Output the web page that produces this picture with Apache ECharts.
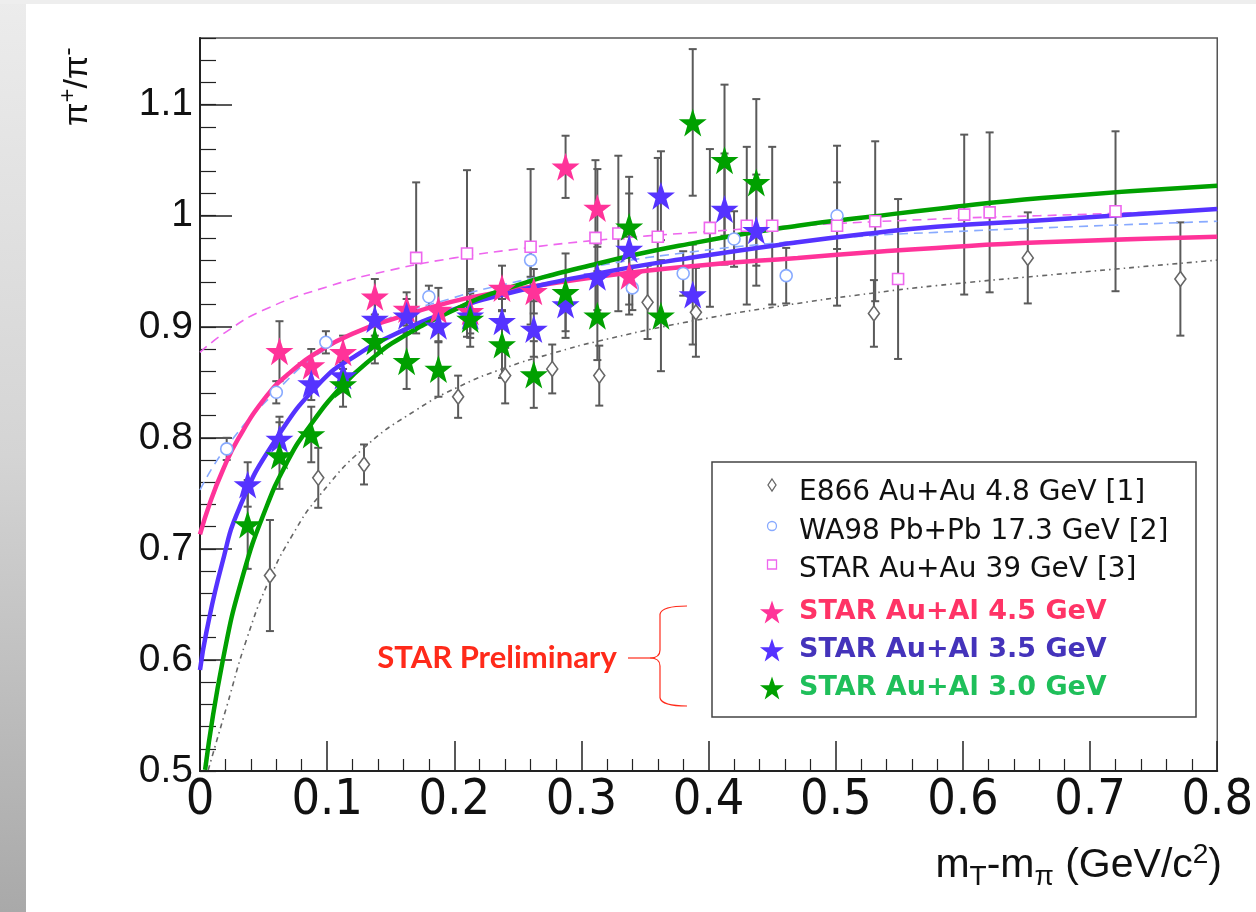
<!DOCTYPE html>
<html>
<head>
<meta charset="utf-8">
<script src="https://cdn.jsdelivr.net/npm/echarts@6/dist/echarts.min.js"></script>
<style>
  html, body { margin: 0; padding: 0; width: 1256px; height: 912px; overflow: hidden; background: #ffffff; }
  #leftStrip { position: absolute; left: 0; top: 0; width: 26px; height: 912px;
    background: linear-gradient(to bottom, #ececec 0%, #d4d4d4 50%, #a9a9a9 100%); }
  #topStrip { position: absolute; left: 0; top: 0; width: 1256px; height: 4px; background: #eeeeee; }
  #chart { position: absolute; left: 0; top: 0; width: 1256px; height: 912px; }
</style>
</head>
<body>
<div id="leftStrip"></div>
<div id="topStrip"></div>
<div id="chart"></div>
<script>
// ---------------- DATA ----------------
const seriesNames = [
  'E866 Au+Au 4.8 GeV [1]',
  'WA98 Pb+Pb 17.3 GeV [2]',
  'STAR Au+Au 39 GeV [3]',
  'STAR Au+Al 4.5 GeV',
  'STAR Au+Al 3.5 GeV',
  'STAR Au+Al 3.0 GeV'
];
const annotationText = 'STAR Preliminary';
const xTitleParts = ['m', 'T', '-m', 'π', ' (GeV/c', '2', ')'];
const yTitleParts = ['π', '+', '/π', '-'];

// E866 Au+Au 4.8 GeV
const e866X   = [0.055, 0.093, 0.129, 0.203, 0.240, 0.277, 0.314, 0.352, 0.390, 0.530, 0.651, 0.771];
const e866Y   = [0.676, 0.764, 0.776, 0.837, 0.856, 0.862, 0.856, 0.922, 0.913, 0.912, 0.962, 0.943];
const e866Err = [0.050, 0.027, 0.018, 0.019, 0.025, 0.022, 0.027, 0.033, 0.040, 0.030, 0.041, 0.051];

// WA98 Pb+Pb 17.3 GeV
const wa98X   = [0.021, 0.060, 0.099, 0.180, 0.260, 0.340, 0.380, 0.420, 0.461, 0.501];
const wa98Y   = [0.790, 0.841, 0.886, 0.927, 0.960, 0.935, 0.948, 0.979, 0.946, 1.000];
const wa98Err = [0.010, 0.010, 0.010, 0.010, 0.015, 0.020, 0.020, 0.025, 0.025, 0.030];

// STAR Au+Au 39 GeV
const s39X   = [0.170, 0.210, 0.260, 0.311, 0.329, 0.360, 0.401, 0.430, 0.450, 0.501, 0.531, 0.549, 0.601, 0.621, 0.720];
const s39Y   = [0.962, 0.966, 0.972, 0.980, 0.984, 0.981, 0.989, 0.991, 0.991, 0.991, 0.995, 0.943, 1.001, 1.003, 1.004];
const s39Err = [0.068, 0.075, 0.070, 0.070, 0.070, 0.071, 0.071, 0.071, 0.071, 0.072, 0.072, 0.072, 0.072, 0.072, 0.072];

// STAR Au+Al 4.5 GeV
const al45X   = [0.0625, 0.0875, 0.1125, 0.1375, 0.1625, 0.1875, 0.2125, 0.2375, 0.2625, 0.2875, 0.3125, 0.3375];
const al45Y   = [0.878, 0.865, 0.877, 0.927, 0.916, 0.915, 0.914, 0.935, 0.932, 1.044, 1.007, 0.946];
const al45Err = [0.027, 0.015, 0.015, 0.016, 0.015, 0.020, 0.020, 0.020, 0.020, 0.028, 0.035, 0.035];

// STAR Au+Al 3.5 GeV
const al35X   = [0.0375, 0.0625, 0.0875, 0.1125, 0.1375, 0.1625, 0.1875, 0.2125, 0.2375, 0.2625, 0.2875, 0.3125, 0.3375, 0.3625, 0.3875, 0.4125, 0.4375];
const al35Y   = [0.758, 0.799, 0.849, 0.856, 0.907, 0.910, 0.901, 0.910, 0.905, 0.898, 0.920, 0.945, 0.970, 1.018, 0.929, 1.006, 0.987];
const al35Err = [0.020, 0.020, 0.015, 0.015, 0.015, 0.015, 0.015, 0.020, 0.020, 0.025, 0.030, 0.030, 0.050, 0.040, 0.045, 0.050, 0.050];

// STAR Au+Al 3.0 GeV
const al30X   = [0.0375, 0.0625, 0.0875, 0.1125, 0.1375, 0.1625, 0.1875, 0.2125, 0.2375, 0.2625, 0.2875, 0.3125, 0.3375, 0.3625, 0.3875, 0.4125, 0.4375];
const al30Y   = [0.722, 0.784, 0.803, 0.848, 0.887, 0.869, 0.862, 0.907, 0.884, 0.857, 0.931, 0.910, 0.990, 0.910, 1.084, 1.050, 1.030];
const al30Err = [0.040, 0.030, 0.025, 0.020, 0.020, 0.025, 0.025, 0.025, 0.030, 0.030, 0.035, 0.040, 0.045, 0.050, 0.066, 0.068, 0.075];

// Fit curves
const fitE866X = [0.0065, 0.021, 0.0365, 0.0548, 0.073, 0.0926, 0.130, 0.170, 0.2035, 0.240, 0.277, 0.313, 0.391, 0.470, 0.527, 0.579, 0.662, 0.800];
const fitE866Y = [0.501, 0.558, 0.618, 0.673, 0.713, 0.746, 0.792, 0.825, 0.846, 0.863, 0.876, 0.887, 0.906, 0.921, 0.930, 0.937, 0.946, 0.960];

const fitWA98X = [0.0, 0.021, 0.060, 0.099, 0.149, 0.196, 0.235, 0.313, 0.391, 0.470, 0.527, 0.579, 0.662, 0.800];
const fitWA98Y = [0.753, 0.792, 0.842, 0.880, 0.908, 0.925, 0.937, 0.955, 0.968, 0.977, 0.982, 0.985, 0.989, 0.995];

const fit39X = [0.0, 0.020, 0.050, 0.100, 0.150, 0.200, 0.250, 0.313, 0.391, 0.470, 0.580, 0.660, 0.800];
const fit39Y = [0.877, 0.895, 0.915, 0.936, 0.951, 0.962, 0.970, 0.978, 0.985, 0.991, 0.997, 1.000, 1.005];

const fit45X = [0.0, 0.008, 0.018, 0.030, 0.052, 0.070, 0.0965, 0.1226, 0.149, 0.196, 0.235, 0.313, 0.391, 0.470, 0.527, 0.579, 0.662, 0.800];
const fit45Y = [0.713, 0.742, 0.771, 0.799, 0.837, 0.858, 0.880, 0.895, 0.906, 0.922, 0.931, 0.945, 0.955, 0.962, 0.967, 0.971, 0.976, 0.981];

const fit35X = [0.0, 0.005, 0.017, 0.031, 0.0587, 0.0965, 0.1226, 0.149, 0.196, 0.235, 0.313, 0.391, 0.470, 0.527, 0.579, 0.662, 0.800];
const fit35Y = [0.591, 0.625, 0.685, 0.737, 0.797, 0.852, 0.874, 0.891, 0.914, 0.928, 0.948, 0.963, 0.976, 0.984, 0.990, 0.996, 1.006];

const fit30X = [0.004, 0.018, 0.034, 0.052, 0.068, 0.0835, 0.112, 0.138, 0.1566, 0.196, 0.235, 0.313, 0.391, 0.470, 0.527, 0.579, 0.662, 0.800];
const fit30Y = [0.501, 0.600, 0.677, 0.737, 0.777, 0.806, 0.847, 0.874, 0.889, 0.913, 0.932, 0.957, 0.976, 0.991, 0.999, 1.006, 1.016, 1.027];

// ---------------- STYLE ----------------
const STAR_PTS = [[50,0],[61.8,35.1],[98.1,35.1],[68.8,56.8],[79.4,91.5],[50,70],[20.6,91.5],[31.2,56.8],[1.9,35.1],[38.2,35.1]];
const STAR_PATH = 'path://M' + STAR_PTS.map(p => p[0] + ',' + p[1]).join(' L') + ' Z';
const C = {
  e866: '#666666', wa98: '#88aaff', s39: '#ee66ee',
  pink: '#ff3399', blue: '#5533ff', green: '#00a000',
  pinkText: '#ff3366', blueText: '#4433bb', greenText: '#1fbf5a',
  err: '#5a5a5a', axis: '#222222', prelim: '#ff2a1a'
};
const TICK_FONT = '"Liberation Sans", Arial, sans-serif';
const XTICK_FONT = '"Liberation Sans Narrow", "Arial Narrow", "DejaVu Sans Condensed", sans-serif';

const zip = (xs, ys) => xs.map((x, i) => [x, ys[i]]);

function errSeries(xs, ys, es, color, width, z) {
  return {
    type: 'custom', z: z, silent: true, clip: true,
    data: xs.map((x, i) => [x, ys[i] - es[i], ys[i] + es[i]]),
    encode: { x: 0, y: [1, 2] },
    renderItem: function (params, api) {
      const lo = api.coord([api.value(0), api.value(1)]);
      const hi = api.coord([api.value(0), api.value(2)]);
      const cw = 4;
      const st = { stroke: color, lineWidth: width };
      return {
        type: 'group', children: [
          { type: 'line', shape: { x1: lo[0], y1: lo[1], x2: hi[0], y2: hi[1] }, style: st },
          { type: 'line', shape: { x1: lo[0] - cw, y1: lo[1], x2: lo[0] + cw, y2: lo[1] }, style: st },
          { type: 'line', shape: { x1: hi[0] - cw, y1: hi[1], x2: hi[0] + cw, y2: hi[1] }, style: st }
        ]
      };
    }
  };
}

function fitSeries(name, xs, ys, color, width, type, z) {
  return {
    name: name, type: 'line', z: z, data: zip(xs, ys), showSymbol: false, silent: true,
    smooth: 0.5, clip: true,
    lineStyle: { color: color, width: width, type: type }
  };
}

function openSeries(name, xs, ys, symbol, size, color, z) {
  return {
    name: name, type: 'scatter', z: z, data: zip(xs, ys), symbol: symbol, symbolSize: size, silent: true,
    itemStyle: { color: '#ffffff', borderColor: color, borderWidth: 1.6, opacity: 1 }
  };
}

function starSeries(name, xs, ys, color, z) {
  return {
    name: name, type: 'scatter', z: z, data: zip(xs, ys), symbol: STAR_PATH, symbolSize: 28, silent: true,
    itemStyle: { color: color, opacity: 1 }
  };
}

const chart = echarts.init(document.getElementById('chart'), null, { renderer: 'canvas' });

const yFmt = v => (Math.abs(v * 10 - Math.round(v * 10)) < 1e-6) ? String(+v.toFixed(1)) : '';

// legend (graphic) layout
const legX = 712, legY = 462, legW = 484, legH = 255;
const rowY = [493, 532, 570, 612, 650, 688];
const markerX = 772, textX = 799;
const rowColors = ['#111111', '#111111', '#111111', C.pinkText, C.blueText, C.greenText];
const rowBold = [false, false, false, true, true, true];

function starPoly(cx, cy, size) {
  return STAR_PTS.map(p => [cx + (p[0] - 50) * size / 100, cy + (p[1] - 50) * size / 100]);
}

const legendGraphics = [
  { type: 'rect', z: 50, shape: { x: legX, y: legY, width: legW, height: legH },
    style: { fill: '#ffffff', stroke: '#444444', lineWidth: 1.5 } },
  { type: 'polygon', z: 51, shape: { points: [[markerX, rowY[0] - 14], [markerX + 4, rowY[0] - 8], [markerX, rowY[0] - 2], [markerX - 4, rowY[0] - 8]] },
    style: { fill: '#fff', stroke: C.e866, lineWidth: 1.3 } },
  { type: 'circle', z: 51, shape: { cx: markerX, cy: rowY[1] - 6, r: 4.5 },
    style: { fill: '#fff', stroke: C.wa98, lineWidth: 1.3 } },
  { type: 'rect', z: 51, shape: { x: markerX - 4.5, y: rowY[2] - 10, width: 9, height: 9 },
    style: { fill: '#fff', stroke: C.s39, lineWidth: 1.3 } },
  { type: 'polygon', z: 51, shape: { points: starPoly(markerX, rowY[3] + 1, 25) }, style: { fill: C.pink } },
  { type: 'polygon', z: 51, shape: { points: starPoly(markerX, rowY[4] + 1, 25) }, style: { fill: C.blue } },
  { type: 'polygon', z: 51, shape: { points: starPoly(markerX, rowY[5] + 1, 25) }, style: { fill: C.green } }
];
seriesNames.forEach((n, i) => {
  legendGraphics.push({
    type: 'text', z: 52, x: textX, y: rowY[i],
    style: {
      text: n, fill: rowColors[i], align: 'left', verticalAlign: 'middle',
      font: (rowBold[i] ? 'bold 27px' : '28px') + ' "DejaVu Sans", Verdana, sans-serif'
    }
  });
});

const braceStyle = { fill: null, stroke: C.prelim, lineWidth: 1.2 };
const otherGraphics = [
  // STAR Preliminary
  { type: 'text', z: 52, x: 497, y: 658,
    style: { text: annotationText, fill: C.prelim, align: 'center', verticalAlign: 'middle', font: 'bold 31px Lato, "Open Sans", sans-serif' } },
  // brace pieces
  { type: 'bezierCurve', z: 52, shape: { x1: 687, y1: 606, x2: 660, y2: 614, cpx1: 662, cpy1: 606 }, style: braceStyle },
  { type: 'line', z: 52, shape: { x1: 660, y1: 614, x2: 660, y2: 650 }, style: braceStyle },
  { type: 'bezierCurve', z: 52, shape: { x1: 660, y1: 650, x2: 650, y2: 658, cpx1: 660, cpy1: 658 }, style: braceStyle },
  { type: 'bezierCurve', z: 52, shape: { x1: 650, y1: 658, x2: 660, y2: 666, cpx1: 660, cpy1: 658 }, style: braceStyle },
  { type: 'line', z: 52, shape: { x1: 628, y1: 658, x2: 650, y2: 658 }, style: braceStyle },
  { type: 'line', z: 52, shape: { x1: 660, y1: 666, x2: 660, y2: 698 }, style: braceStyle },
  { type: 'bezierCurve', z: 52, shape: { x1: 660, y1: 698, x2: 687, y2: 706, cpx1: 662, cpy1: 706 }, style: braceStyle },
  // x-axis title
  { type: 'text', z: 52, x: 1222, y: 866,
    style: {
      text: '{m|' + xTitleParts[0] + '}{sub|' + xTitleParts[1] + '}{m|' + xTitleParts[2] + '}{sub|' + xTitleParts[3] + '}{m|' + xTitleParts[4] + '}{sup|' + xTitleParts[5] + '}{m|' + xTitleParts[6] + '}',
      align: 'right', verticalAlign: 'middle',
      rich: {
        m: { fontSize: 41, fontFamily: TICK_FONT, fill: '#111', lineHeight: 50, verticalAlign: 'middle' },
        sub: { fontSize: 28, fontFamily: TICK_FONT, fill: '#111', lineHeight: 24, verticalAlign: 'bottom' },
        sup: { fontSize: 28, fontFamily: TICK_FONT, fill: '#111', lineHeight: 26, verticalAlign: 'top' }
      }
    } }
];

const option = {
  animation: false,
  backgroundColor: 'transparent',
  grid: { left: 200, right: 34, top: 38, bottom: 141, show: true, borderColor: '#555', borderWidth: 1.5, backgroundColor: '#ffffff' },
  xAxis: {
    type: 'value', min: 0, max: 0.8, interval: 0.1,
    axisLine: { show: true, onZero: false, lineStyle: { color: C.axis, width: 2 } },
    axisTick: { show: true, inside: true, length: 30, lineStyle: { color: C.axis, width: 1.5 } },
    minorTick: { show: true, splitNumber: 5, length: 12, lineStyle: { color: C.axis, width: 1.2 } },
    axisLabel: { fontSize: 50, fontFamily: XTICK_FONT, color: '#111', margin: 5, formatter: v => String(+v.toFixed(1)), hideOverlap: false },
    splitLine: { show: false }
  },
  yAxis: [
    {
      type: 'value', position: 'left', min: 0.5, max: 1.16, interval: 0.1,
      axisLine: { show: true, onZero: false, lineStyle: { color: C.axis, width: 2 } },
      axisTick: { show: true, inside: true, length: 32, lineStyle: { color: C.axis, width: 1.5 } },
      axisLabel: { fontSize: 39, fontFamily: TICK_FONT, color: '#111', margin: 7, formatter: yFmt, showMaxLabel: false, hideOverlap: false },
      splitLine: { show: false }
    },
    {
      type: 'value', position: 'left', offset: 0, min: 0.5, max: 1.16, interval: 0.02,
      axisLine: { show: false },
      axisTick: { show: true, inside: true, length: 16, lineStyle: { color: C.axis, width: 1.2 } },
      axisLabel: { show: false },
      splitLine: { show: false }
    },
    {
      // carrier for the rotated y-axis title only
      type: 'value', position: 'left', offset: 122, min: 0.5, max: 1.16,
      axisLine: { show: false }, axisTick: { show: false }, axisLabel: { show: false }, splitLine: { show: false },
      name: '{m|' + yTitleParts[0] + '}{sup|' + yTitleParts[1] + '}{m|' + yTitleParts[2] + '}{sup|' + yTitleParts[3] + '}',
      nameLocation: 'end', nameGap: -88, nameRotate: 90,
      nameTextStyle: {
        rich: {
          m: { fontSize: 34, fontFamily: TICK_FONT, color: '#111', lineHeight: 44, verticalAlign: 'middle' },
          sup: { fontSize: 24, fontFamily: TICK_FONT, color: '#111', lineHeight: 22, verticalAlign: 'top' }
        }
      }
    }
  ],
  series: [
    errSeries(s39X, s39Y, s39Err, C.err, 2, 2),
    errSeries(e866X, e866Y, e866Err, C.err, 2, 2),
    errSeries(wa98X, wa98Y, wa98Err, C.err, 2, 2),
    errSeries(al45X, al45Y, al45Err, C.err, 2, 2),
    errSeries(al35X, al35Y, al35Err, C.err, 2, 2),
    errSeries(al30X, al30Y, al30Err, C.err, 2, 2),
    fitSeries('fitE866', fitE866X, fitE866Y, '#666666', 1.6, [5, 4, 1.5, 4], 3),
    fitSeries('fitWA98', fitWA98X, fitWA98Y, C.wa98, 1.6, [9, 6], 3),
    fitSeries('fit39', fit39X, fit39Y, C.s39, 1.6, [9, 6], 3),
    fitSeries('fit45', fit45X, fit45Y, C.pink, 4.5, 'solid', 3),
    fitSeries('fit35', fit35X, fit35Y, C.blue, 4.5, 'solid', 3),
    fitSeries('fit30', fit30X, fit30Y, C.green, 4.5, 'solid', 3),
    openSeries(seriesNames[0], e866X, e866Y, 'diamond', [11, 15], C.e866, 4),
    openSeries(seriesNames[1], wa98X, wa98Y, 'circle', 12, C.wa98, 4),
    openSeries(seriesNames[2], s39X, s39Y, 'rect', 11, C.s39, 4),
    starSeries(seriesNames[3], al45X, al45Y, C.pink, 5),
    starSeries(seriesNames[4], al35X, al35Y, C.blue, 5),
    starSeries(seriesNames[5], al30X, al30Y, C.green, 5)
  ],
  graphic: legendGraphics.concat(otherGraphics)
};
chart.setOption(option);
</script>
</body>
</html>
